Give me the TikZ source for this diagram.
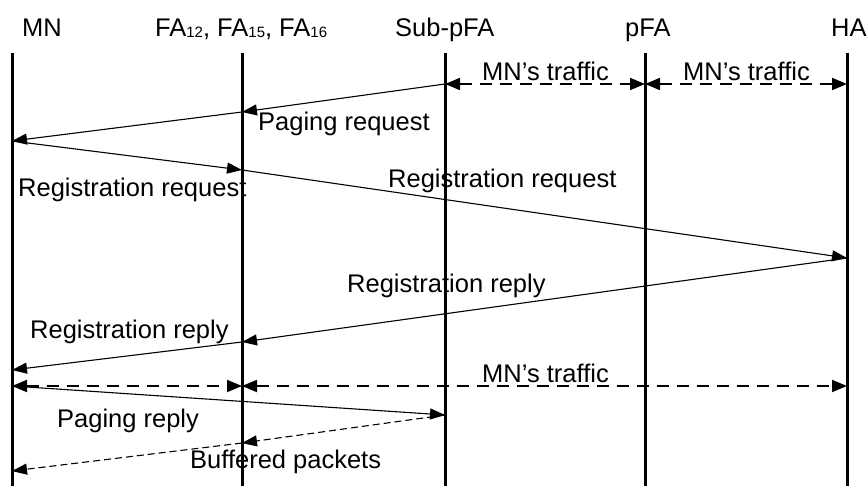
\documentclass[tikz,border=0pt]{standalone}
\usepackage{fontspec}
\setmainfont{Liberation Sans}
\usetikzlibrary{arrows.meta}
\newcommand{\subnum}[1]{\raisebox{-1pt}{\fontsize{15}{15}\selectfont #1}}
\begin{document}
\begin{tikzpicture}[x=1pt,y=-1pt,
  lifeline/.style={line width=3pt},
  msg/.style={line width=1.1pt,-{Triangle[length=15pt,width=11pt]}},
  traffic/.style={line width=1.8pt,dash pattern=on 12pt off 8pt,
    {Triangle[length=15pt,width=12pt]}-{Triangle[length=15pt,width=12pt]}},
  buffered/.style={line width=1.1pt,dash pattern=on 7pt off 4pt,
    -{Triangle[length=15pt,width=11pt]}},
  lbl/.style={anchor=base west,inner sep=0pt,
    font=\fontsize{25.5}{30}\selectfont},
]
\useasboundingbox (0,0) rectangle (867,486);
\fill[white] (0,0) rectangle (867,486);

% entity names
\node[lbl] (tMN)  at (22,37)  {MN};
\node[lbl] (tFA)  at (155,37) {FA\subnum{12}, FA\subnum{15}, FA\subnum{16}};
\node[lbl] (tSub) at (395,37) {Sub-pFA};
\node[lbl] (tpFA) at (625,37) {pFA};
\node[lbl] (tHA)  at (831,37) {HA};

% lifelines
\coordinate (mnT)  at (12,53);  \coordinate (mnB)  at (12,486);
\coordinate (faT)  at (242,53); \coordinate (faB)  at (242,486);
\coordinate (subT) at (445,53); \coordinate (subB) at (445,486);
\coordinate (pfaT) at (645,53); \coordinate (pfaB) at (645,486);
\coordinate (haT)  at (847,53); \coordinate (haB)  at (847,486);
\foreach \l in {mn,fa,sub,pfa,ha} \draw[lifeline] (\l T) -- (\l B);

% message end points on the lifelines
\coordinate (sub1) at (445,84);
\coordinate (pfa1) at (645,84);
\coordinate (ha1)  at (847,84);
\coordinate (fa1)  at (242,112);
\coordinate (mn1)  at (12,141);
\coordinate (fa2)  at (242,170);
\coordinate (ha2)  at (847,258);
\coordinate (fa3)  at (242,342);
\coordinate (mn2)  at (12,370);
\coordinate (mn3)  at (12,386);
\coordinate (fa4)  at (242,386);
\coordinate (ha3)  at (847,386);
\coordinate (sub2) at (445,415);
\coordinate (fa5)  at (242,443);
\coordinate (mn4)  at (12,471);

% MN's traffic between Sub-pFA, pFA and HA
\draw[traffic] (sub1) -- (pfa1);
\draw[traffic] (pfa1) -- (ha1);
\node[lbl] (lt1) at (482,81) {MN's traffic};
\node[lbl] (lt2) at (683,81) {MN's traffic};

% paging request
\draw[msg] (sub1) -- (fa1);
\draw[msg] (fa1) -- (mn1);
\node[lbl] (lpr) at (258,131) {Paging request};

% registration request
\draw[msg] (mn1) -- (fa2);
\draw[msg] (fa2) -- (ha2);
\node[lbl] (lrq1) at (18,197) {Registration request};
\node[lbl] (lrq2) at (388,188) {Registration request};

% registration reply
\draw[msg] (ha2) -- (fa3);
\draw[msg] (fa3) -- (mn2);
\node[lbl] (lrp1) at (347,292) {Registration reply};
\node[lbl] (lrp2) at (30,338) {Registration reply};

% MN's traffic after registration
\draw[traffic] (mn3) -- (fa4);
\draw[traffic] (fa4) -- (ha3);
\node[lbl] (lt3) at (482,382) {MN's traffic};

% paging reply
\draw[msg] (mn3) -- (sub2);
\node[lbl] (lpy) at (57,427) {Paging reply};

% buffered packets
\draw[buffered] (sub2) -- (fa5);
\draw[buffered] (fa5) -- (mn4);
\node[lbl] (lbp) at (190,468) {Buffered packets};
\end{tikzpicture}
\end{document}
